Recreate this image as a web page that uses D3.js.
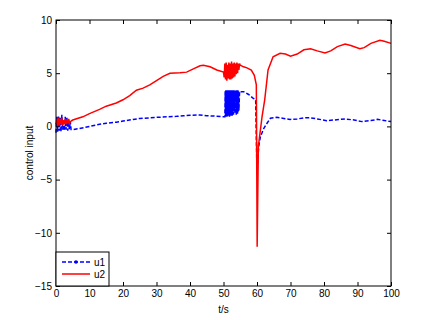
<!DOCTYPE html>
<html>
<head>
<meta charset="utf-8">
<script src="https://cdn.jsdelivr.net/npm/d3@7"></script>
<style>
  body { margin: 0; background: #fff; }
  text { font-family: "Liberation Sans", Arial, sans-serif; }
</style>
</head>
<body>
<div id="container"></div>
<script>
const WIDTH = 421,
  HEIGHT = 320,
  MARGIN = { top: 20, right: 30, bottom: 34, left: 56 };

// tick labels
const xTicks = [0, 10, 20, 30, 40, 50, 60, 70, 80, 90, 100];
const yTicks = [-15, -10, -5, 0, 5, 10];

// series names
const seriesNames = ["u1", "u2"];

// u1: [t, value]
const u1 = [
  [0, -0.6], [0.25, 0.9], [0.5, -0.5], [0.75, 1.0], [1.0, -0.4], [1.25, 0.8],
  [1.5, -0.5], [1.75, 1.1], [2.0, -0.3], [2.25, 0.7], [2.5, -0.4], [2.75, 0.9],
  [3.0, -0.3], [3.25, 0.8], [3.5, -0.4], [3.75, 0.6], [4.0, -0.3], [4.25, 0.5],
  [4.5, -0.3], [5, -0.3], [7, -0.2], [10, 0.0], [13, 0.2], [15, 0.3], [18, 0.4],
  [20, 0.5], [23, 0.65], [25, 0.75], [28, 0.8], [30, 0.85], [33, 0.9], [36, 0.95],
  [38, 1.0], [40, 1.05], [43, 1.07], [45, 1.0], [47, 0.98], [50, 0.9], [50.4, 0.9],
  [50.5, 3.3], [50.6, 1.0], [50.7, 3.4], [50.8, 0.9], [50.9, 3.2], [51.0, 1.1],
  [51.1, 3.4], [51.2, 0.9], [51.3, 3.3], [51.4, 1.0], [51.5, 3.4], [51.6, 1.0],
  [51.7, 3.2], [51.8, 0.9], [51.9, 3.4], [52.0, 1.1], [52.1, 3.3], [52.2, 1.0],
  [52.3, 3.4], [52.4, 1.2], [52.5, 3.3], [52.6, 1.0], [52.7, 3.4], [52.8, 1.3],
  [52.9, 3.3], [53.0, 1.1], [53.1, 3.4], [53.2, 1.5], [53.3, 3.3], [53.4, 1.2],
  [53.5, 3.4], [53.6, 1.4], [53.7, 3.3], [53.8, 1.1], [53.9, 3.4], [54.0, 1.3],
  [54.1, 3.3], [54.2, 1.2], [54.3, 3.4], [54.4, 1.4], [54.5, 3.3], [54.6, 1.5],
  [54.8, 3.3],
  [55, 3.26], [56, 3.26], [57.5, 3.0], [58.9, 2.64], [59.6, 2.5], [60, -4.5],
  [60.5, -1.9], [61, -1.0], [62, -0.2], [63, 0.3], [64, 0.76], [65.9, 0.85],
  [68, 0.75], [69.9, 0.66], [72, 0.7], [74, 0.8], [75.8, 0.82], [78, 0.7],
  [80.8, 0.54], [83, 0.6], [86.3, 0.7], [89, 0.6], [91.3, 0.45], [94, 0.55],
  [96, 0.66], [98, 0.55], [100, 0.45]
];

// u2: [t, value]
const u2 = [
  [0, 0.2], [0.3, 0.7], [0.5, 0.0], [0.8, 0.8], [1.0, 0.1], [1.3, 0.7], [1.5, 0.2],
  [1.8, 0.8], [2.0, 0.1], [2.3, 0.6], [2.5, 0.2], [2.8, 0.7], [3.0, 0.2], [3.3, 0.6],
  [3.5, 0.3], [3.8, 0.7], [4.0, 0.3], [4.5, 0.5], [5, 0.6], [8, 0.9], [10, 1.2],
  [13, 1.6], [15, 1.9], [18, 2.2], [20, 2.5], [22, 2.9], [24, 3.4], [26, 3.6],
  [28, 3.9], [30, 4.3], [32, 4.7], [34, 5.0], [37, 5.05], [39, 5.1], [41, 5.4],
  [43, 5.7], [44, 5.75], [46, 5.6], [48, 5.3], [50, 5.1],
  [50.2, 4.6], [50.4, 5.9], [50.6, 4.4], [50.8, 6.0], [51.0, 4.3], [51.2, 5.8],
  [51.4, 4.5], [51.6, 6.0], [51.8, 4.4], [52.0, 5.9], [52.2, 4.4], [52.4, 6.1],
  [52.6, 4.5], [52.8, 5.9], [53.0, 4.6], [53.2, 6.0], [53.4, 4.7], [53.6, 5.9],
  [53.8, 4.9], [54.0, 6.0], [54.2, 5.0], [54.4, 5.9], [54.6, 5.3], [54.8, 5.9],
  [55, 5.75], [56, 5.6], [57, 5.5], [58.3, 5.3], [59.2, 4.8], [59.8, 3.9],
  [60.05, -11.3], [60.4, -1.9], [61.5, 0.9], [62.3, 2.5], [63.3, 5.3], [64.8, 6.55],
  [66.9, 6.87], [68.5, 6.8], [70, 6.6], [72, 6.8], [74, 7.2], [76, 7.3], [78, 7.1],
  [80.3, 6.9], [82, 7.1], [84, 7.5], [86.3, 7.75], [88, 7.6], [90.7, 7.3], [92, 7.4],
  [94, 7.8], [96.7, 8.1], [98, 8.0], [100, 7.8]
];

const svg = d3.select("#container")
  .append("svg")
  .attr("width", WIDTH)
  .attr("height", HEIGHT)
  .style("background-color", "#fff");

// Scales
const xScale = d3.scaleLinear()
  .domain([0, 100])
  .range([MARGIN.left, WIDTH - MARGIN.right]);

const yScale = d3.scaleLinear()
  .domain([-15, 10])
  .range([HEIGHT - MARGIN.bottom, MARGIN.top]);

const line = d3.line()
  .x(d => xScale(d[0]))
  .y(d => yScale(d[1]));

// Lines
svg.append("path")
  .datum(u1)
  .attr("fill", "none")
  .attr("stroke", "#0000ff")
  .attr("stroke-width", 1.5)
  .attr("stroke-dasharray", "4,2")
  .attr("d", line);

svg.append("path")
  .datum(u2)
  .attr("fill", "none")
  .attr("stroke", "#ff0000")
  .attr("stroke-width", 1.5)
  .attr("d", line);

// Axes (MATLAB-style inward ticks)
const styleAxis = g => {
  g.select(".domain").remove();
  g.selectAll(".tick line").attr("stroke", "#000");
  g.selectAll("text").attr("fill", "#000").style("font-size", "10px");
};

svg.append("g")
  .attr("transform", `translate(0,${HEIGHT - MARGIN.bottom})`)
  .call(d3.axisBottom(xScale).tickValues(xTicks).tickSize(-4).tickPadding(4))
  .call(styleAxis);

svg.append("g")
  .attr("transform", `translate(0,${MARGIN.top})`)
  .call(d3.axisTop(xScale).tickValues(xTicks).tickSize(-4).tickFormat(""))
  .call(styleAxis);

svg.append("g")
  .attr("transform", `translate(${MARGIN.left},0)`)
  .call(d3.axisLeft(yScale).tickValues(yTicks).tickSize(-4).tickPadding(4))
  .call(styleAxis);

svg.append("g")
  .attr("transform", `translate(${WIDTH - MARGIN.right},0)`)
  .call(d3.axisRight(yScale).tickValues(yTicks).tickSize(-4).tickFormat(""))
  .call(styleAxis);

// Box
svg.append("rect")
  .attr("x", MARGIN.left)
  .attr("y", MARGIN.top)
  .attr("width", WIDTH - MARGIN.left - MARGIN.right)
  .attr("height", HEIGHT - MARGIN.top - MARGIN.bottom)
  .attr("fill", "none")
  .attr("stroke", "#000")
  .attr("stroke-width", 1);

// Axis labels
svg.append("text")
  .attr("x", (MARGIN.left + WIDTH - MARGIN.right) / 2)
  .attr("y", 313)
  .attr("text-anchor", "middle")
  .style("font-size", "10px")
  .text("t/s");

svg.append("text")
  .attr("transform", `translate(33,${(MARGIN.top + HEIGHT - MARGIN.bottom) / 2}) rotate(-90)`)
  .attr("text-anchor", "middle")
  .style("font-size", "10px")
  .text("control input");

// Legend
const legend = svg.append("g")
  .attr("transform", `translate(${MARGIN.left},252)`);

legend.append("rect")
  .attr("width", 53)
  .attr("height", HEIGHT - MARGIN.bottom - 252)
  .attr("fill", "#fff")
  .attr("stroke", "#000");

const colors = ["#0000ff", "#ff0000"];
seriesNames.forEach((name, i) => {
  const y = 10 + i * 12;
  legend.append("line")
    .attr("x1", 6).attr("x2", 34)
    .attr("y1", y).attr("y2", y)
    .attr("stroke", colors[i])
    .attr("stroke-width", 1.5)
    .attr("stroke-dasharray", i === 0 ? "4,2" : null);
  if (i === 0) {
    legend.append("circle")
      .attr("cx", 20).attr("cy", y).attr("r", 1.8)
      .attr("fill", colors[i]);
  }
  legend.append("text")
    .attr("x", 38)
    .attr("y", y)
    .attr("dy", "0.35em")
    .style("font-size", "10px")
    .text(name);
});
</script>
</body>
</html>
